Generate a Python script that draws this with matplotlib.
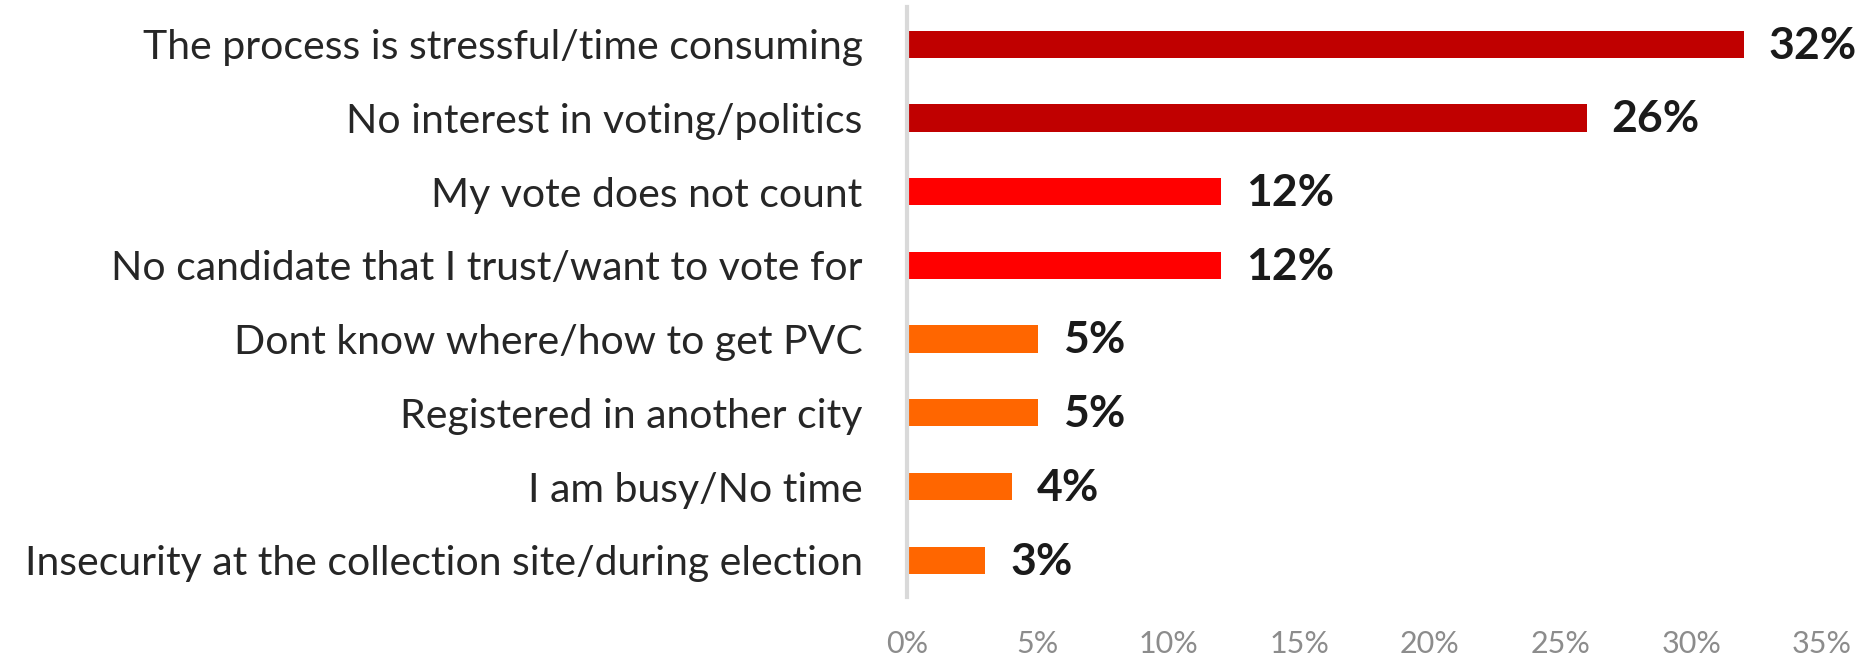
import matplotlib
matplotlib.use("Agg")
import matplotlib.pyplot as plt
from matplotlib.ticker import FuncFormatter

plt.rcParams['font.family'] = ['Lato', 'DejaVu Sans']

reasons = [
    "The process is stressful/time consuming",
    "No interest in voting/politics",
    "My vote does not count",
    "No candidate that I trust/want to vote for",
    "Dont know where/how to get PVC",
    "Registered in another city",
    "I am busy/No time",
    "Insecurity at the collection site/during election",
]
shares = [32, 26, 12, 12, 5, 5, 4, 3]
bar_colors = ["#C00000", "#C00000", "#FF0000", "#FF0000",
              "#FF6600", "#FF6600", "#FF6600", "#FF6600"]
x_ticks = [0, 5, 10, 15, 20, 25, 30, 35]

fig = plt.figure(figsize=(18.61, 6.62), dpi=100)
ax = fig.add_axes([0.4874, 0.098, 0.4916, 0.891])

pos = list(range(len(reasons)))
ax.barh(pos, shares, height=0.37, color=bar_colors)
ax.set_ylim(len(reasons) - 0.5, -0.5)
ax.set_xlim(0, 35)

# value labels to the right of each bar
for y, v in zip(pos, shares):
    ax.annotate(f"{v}%", (v, y), xytext=(18, -1), textcoords="offset points",
                ha="left", va="center", fontsize=32, fontweight="bold",
                color="#1a1a1a")

ax.set_yticks(pos)
ax.set_yticklabels(reasons, fontsize=29.5, color="#262626")
ax.set_xticks(x_ticks)
ax.xaxis.set_major_formatter(FuncFormatter(lambda v, _: f"{v:.0f}%"))
ax.tick_params(axis="x", length=0, pad=24, labelsize=22, labelcolor="#8c8c8c")
ax.tick_params(axis="y", length=0, pad=32)

for side in ["top", "right", "bottom"]:
    ax.spines[side].set_visible(False)
ax.spines["left"].set_color("#d9d9d9")
ax.spines["left"].set_linewidth(3)

fig.savefig("out.png", dpi=100)
